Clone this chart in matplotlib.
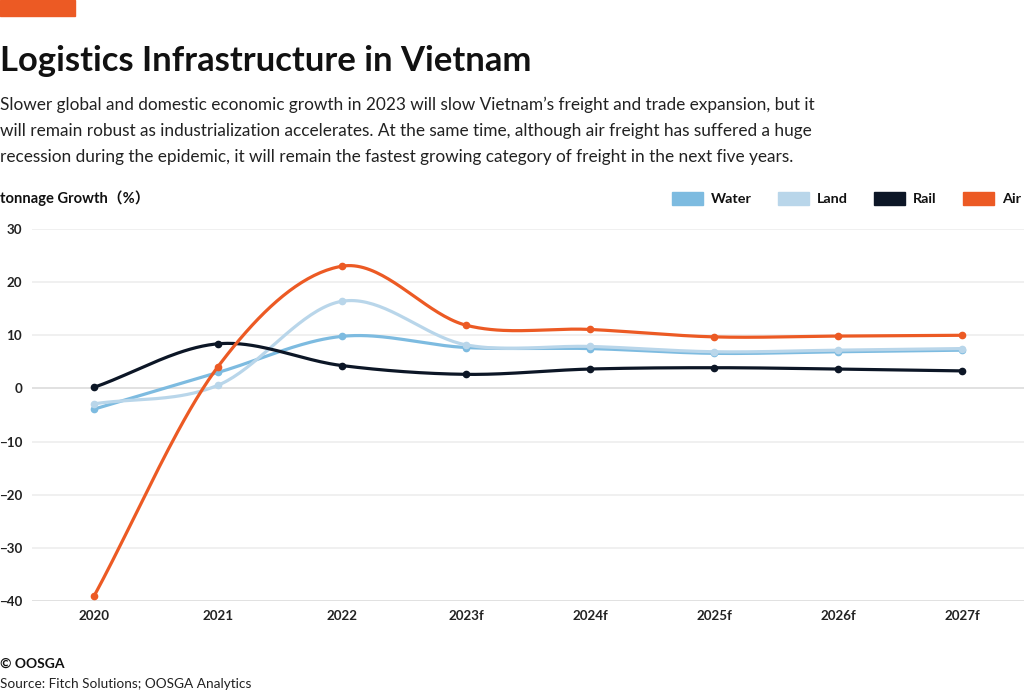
import numpy as np
import matplotlib
matplotlib.use("Agg")
import matplotlib.pyplot as plt
from matplotlib.patches import Rectangle

years = ["2020", "2021", "2022", "2023f", "2024f", "2025f", "2026f", "2027f"]
water = [-3.9, 3.0, 9.8, 7.7, 7.5, 6.6, 6.9, 7.2]
land = [-2.9, 0.6, 16.4, 8.2, 7.9, 6.9, 7.2, 7.5]
rail = [0.2, 8.4, 4.3, 2.65, 3.65, 3.9, 3.65, 3.3]
air = [-39.1, 4.1, 23.0, 11.9, 11.1, 9.7, 9.85, 10.0]

series_names = ["Water", "Land", "Rail", "Air"]
series_vals = [water, land, rail, air]
colors = ["#7dbbe0", "#b9d6ea", "#0c1626", "#ec5a24"]

W, H = 1024, 691
fig = plt.figure(figsize=(W / 100, H / 100), dpi=100)
fig.patch.set_facecolor("white")

def fx(px):
    return px / W

def fy(py):
    return 1 - py / H

# axes placement
ax = fig.add_axes([fx(32), fy(601), fx(1024) - fx(32), fy(229) - fy(601)])
ax.set_xlim(-0.5, len(years) - 0.5)
ax.set_ylim(-40, 30)
for s in ax.spines.values():
    s.set_visible(False)
ax.set_yticks(np.arange(-40, 31, 10))
ax.set_xticks(range(len(years)))
ax.set_xticklabels(years)
ax.tick_params(axis="both", length=0, labelsize=9.6, colors="#222222")
ax.tick_params(axis="x", pad=6.5)
ax.tick_params(axis="y", pad=7.2)
for lab in ax.get_xticklabels() + ax.get_yticklabels():
    lab.set_fontfamily("Lato")
    lab.set_fontweight("bold")
for v in np.arange(-40, 31, 10):
    ax.axhline(v, color="#d8d8d8" if v in (0, -40) else "#ececec", lw=1.1, zorder=0)


def catmull(vals, n=40):
    y = np.asarray(vals, dtype=float)
    x = np.arange(len(y), dtype=float)
    m = np.zeros_like(y)
    m[1:-1] = (y[2:] - y[:-2]) / 2
    m[0] = y[1] - y[0]
    m[-1] = y[-1] - y[-2]
    xs, ys = [], []
    for i in range(len(y) - 1):
        t = np.linspace(0, 1, n, endpoint=(i == len(y) - 2))
        h00 = 2 * t**3 - 3 * t**2 + 1
        h10 = t**3 - 2 * t**2 + t
        h01 = -2 * t**3 + 3 * t**2
        h11 = t**3 - t**2
        xs.append(x[i] + t)
        ys.append(h00 * y[i] + h10 * m[i] + h01 * y[i + 1] + h11 * m[i + 1])
    return np.concatenate(xs), np.concatenate(ys)

xi = np.arange(len(years))
for k, (name, vals, c) in enumerate(zip(series_names, series_vals, colors)):
    sx, sy = catmull(vals)
    ax.plot(sx, sy, color=c, lw=2.3, zorder=3 + k, solid_capstyle="round")
    ax.plot(xi, vals, "o", color=c, ms=4.5, zorder=3 + k)

# header decorations
fig.patches.append(Rectangle((0, fy(16)), fx(75), fy(0) - fy(16), transform=fig.transFigure,
                             color="#ec5a24", zorder=5))
fig.text(fx(0), fy(71), "Logistics Infrastructure in Vietnam", fontfamily="Lato",
         fontweight="bold", fontsize=24.9, color="#111111", va="baseline", ha="left")
sub = ["Slower global and domestic economic growth in 2023 will slow Vietnam\u2019s freight and trade expansion, but it",
       "will remain robust as industrialization accelerates. At the same time, although air freight has suffered a huge",
       "recession during the epidemic, it will remain the fastest growing category of freight in the next five years."]
for i, line in enumerate(sub):
    fig.text(fx(0), fy(110 + 26 * i), line, fontfamily="Lato", fontsize=12.4,
             color="#222222", va="baseline", ha="left")

fig.text(fx(0), fy(203), "tonnage Growth\uff08%\uff09", fontfamily=["Lato", "Noto Sans CJK SC"],
         fontweight="bold", fontsize=10.6, color="#111111", va="baseline", ha="left")

# legend
leg_rects = [672, 778, 874, 963]
for name, c, rx in zip(series_names, colors, leg_rects):
    fig.patches.append(Rectangle((fx(rx), fy(205)), fx(31), fy(192) - fy(205),
                                 transform=fig.transFigure, color=c))
    fig.text(fx(rx + 39), fy(203), name, fontfamily="Lato", fontweight="bold",
             fontsize=10.4, color="#111111", va="baseline", ha="left")

fig.text(fx(0), fy(668), "\u00a9 OOSGA", fontfamily="Lato", fontweight="bold",
         fontsize=10, color="#111111", va="baseline", ha="left")
fig.text(fx(0), fy(688), "Source: Fitch Solutions; OOSGA Analytics", fontfamily="Lato",
         fontsize=9.8, color="#222222", va="baseline", ha="left")

fig.savefig("out.png", dpi=100, facecolor="white")
